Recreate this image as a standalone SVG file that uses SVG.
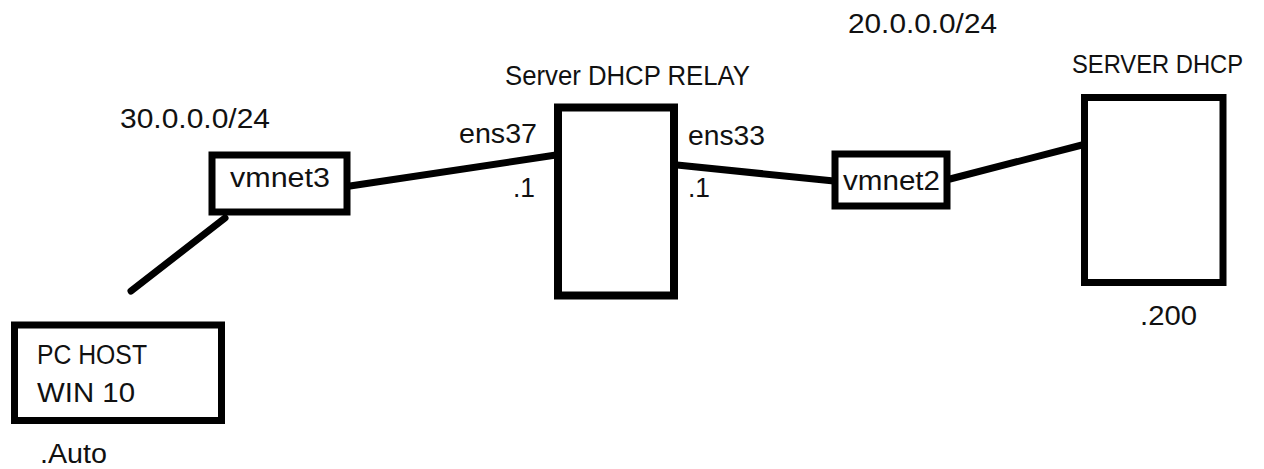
<svg xmlns="http://www.w3.org/2000/svg" width="1264" height="469" viewBox="0 0 1264 469">
<style>
.box{fill:#fff;stroke:#000;stroke-width:7}
.lnk{stroke:#000;stroke-width:7;stroke-linecap:round;fill:none}
text{font-family:"Liberation Sans",Arial,sans-serif;font-size:27px;fill:#111}
</style>
<rect width="1264" height="469" fill="#fff"/>
<g id="connectors">
<line class="lnk" x1="225" y1="218" x2="131" y2="291"/>
<line class="lnk" x1="350" y1="186" x2="556" y2="155"/>
<line class="lnk" x1="677" y1="165" x2="834" y2="181"/>
<line class="lnk" x1="950" y1="179" x2="1082" y2="145"/>
</g>
<g id="pc-host">
<rect class="box" x="14.5" y="325" width="207" height="95.5"/>
<text x="37" y="364" textLength="110" lengthAdjust="spacingAndGlyphs">PC HOST</text>
<text x="37" y="402" textLength="98" lengthAdjust="spacingAndGlyphs">WIN 10</text>
<text x="40" y="463" textLength="67" lengthAdjust="spacingAndGlyphs">.Auto</text>
</g>
<g id="vmnet3">
<text x="120" y="128" textLength="150" lengthAdjust="spacingAndGlyphs">30.0.0.0/24</text>
<rect class="box" x="212" y="155" width="135" height="57"/>
<text x="230" y="187" textLength="100" lengthAdjust="spacingAndGlyphs">vmnet3</text>
</g>
<g id="relay">
<text x="505" y="85" textLength="245" lengthAdjust="spacingAndGlyphs">Server DHCP RELAY</text>
<rect class="box" x="558" y="107.5" width="116" height="188" style="stroke-width:8"/>
<text x="459" y="143" textLength="78" lengthAdjust="spacingAndGlyphs">ens37</text>
<text x="513" y="197" textLength="22" lengthAdjust="spacingAndGlyphs">.1</text>
<text x="688" y="145" textLength="77" lengthAdjust="spacingAndGlyphs">ens33</text>
<text x="688" y="197" textLength="22" lengthAdjust="spacingAndGlyphs">.1</text>
</g>
<g id="vmnet2">
<text x="848" y="33" textLength="149" lengthAdjust="spacingAndGlyphs">20.0.0.0/24</text>
<rect class="box" x="835" y="154" width="112" height="52"/>
<text x="843" y="190" textLength="97" lengthAdjust="spacingAndGlyphs">vmnet2</text>
</g>
<g id="server-dhcp">
<text x="1072" y="73" style="font-size:25px" textLength="171" lengthAdjust="spacingAndGlyphs">SERVER DHCP</text>
<rect class="box" x="1084.5" y="97.5" width="138.5" height="185"/>
<text x="1140" y="325" textLength="57" lengthAdjust="spacingAndGlyphs">.200</text>
</g>
</svg>
